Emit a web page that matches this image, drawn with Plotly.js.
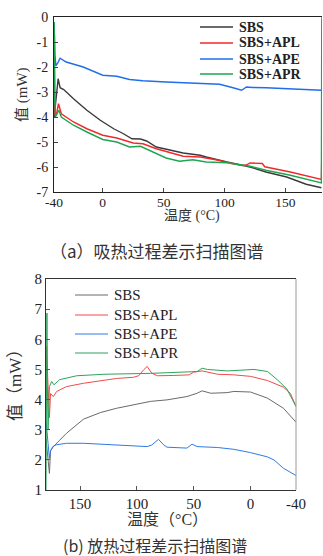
<!DOCTYPE html>
<html>
<head>
<meta charset="utf-8">
<script src="https://cdn.plot.ly/plotly-3.0.1.min.js"></script>
<style>html,body{margin:0;padding:0;background:#fff;}#chart{width:323px;height:556px;}</style>
</head>
<body>
<div id="chart"></div>
<script>
// ---------- (a) endothermic (heating) ----------
const seriesNames = ['SBS', 'SBS+APL', 'SBS+APE', 'SBS+APR'];

const heatT_SBS = [-40, -39.6, -39, -37.8, -36.6, -35, -32, -24, -13, -2, 9, 17, 24, 31, 36, 44, 52, 66, 80, 85, 102, 121, 134, 151, 167, 179.5];
const heatY_SBS = [-3.4, -4.0, -3.6, -3.0, -2.47, -2.83, -2.9, -3.27, -3.73, -4.13, -4.47, -4.67, -4.87, -4.88, -4.96, -5.2, -5.29, -5.44, -5.53, -5.6, -5.8, -6.0, -6.2, -6.4, -6.69, -6.83];

const heatT_APL = [-40, -39.7, -39.2, -38, -36.3, -34, -24, -13, 0, 11.5, 25, 33, 44, 58, 66, 80, 93, 107, 114.8, 117.8, 121, 131, 133, 154, 179.5, 179.8, 180];
const heatY_APL = [-3.3, -1.7, -3.9, -3.9, -3.47, -3.87, -4.2, -4.47, -4.73, -4.84, -5.04, -5.07, -5.27, -5.47, -5.57, -5.6, -5.71, -5.87, -5.94, -5.92, -5.84, -5.86, -5.99, -6.2, -6.5, -5.6, -5.6];

const heatT_APE = [-40, -39.6, -39.2, -38.5, -37, -35, -30, -16, 0, 11.5, 22, 33, 52, 80, 96, 107, 114, 118, 123, 134, 154, 179.5];
const heatY_APE = [-2.0, -0.7, -1.5, -1.95, -1.85, -1.65, -1.8, -2.0, -2.33, -2.37, -2.5, -2.55, -2.6, -2.67, -2.69, -2.83, -2.93, -2.8, -2.82, -2.83, -2.87, -2.93];

const heatT_APR = [-40, -39.8, -39.4, -38.8, -37.5, -36, -34, -24, -13, 0, 11.5, 22, 31, 41.5, 52, 63, 74, 85, 102, 121, 134, 154, 179.5, 179.8, 180];
const heatY_APR = [-3.5, -0.2, -3.0, -4.0, -3.9, -3.73, -4.0, -4.33, -4.6, -4.9, -5.0, -5.2, -5.17, -5.4, -5.64, -5.77, -5.71, -5.8, -5.83, -5.97, -6.13, -6.33, -6.64, -0.1, 0];

// ---------- (b) exothermic (cooling) ----------
const coolT_SBS = [180, 178.5, 177, 176, 173.5, 168, 162, 147, 132, 118, 103, 88, 73.5, 56, 47, 42.6, 35, 20.6, 14.7, 0, -14.7, -29, -40];
const coolY_SBS = [2.7, 2.0, 1.55, 2.3, 2.44, 2.65, 2.88, 3.35, 3.57, 3.71, 3.82, 3.94, 3.99, 4.1, 4.21, 4.29, 4.21, 4.23, 4.27, 4.25, 4.05, 3.71, 3.25];

const coolT_APL = [180, 179.4, 178.8, 178, 177, 176, 173.5, 170.6, 162, 147, 132, 118, 103, 98.5, 94, 91, 87, 82, 67.6, 54, 50, 42.6, 29, 14.7, 0, -15, -29, -35, -40];
const coolY_APL = [4.5, 5.76, 5.0, 3.9, 3.4, 4.2, 4.1, 4.27, 4.43, 4.54, 4.63, 4.7, 4.74, 4.79, 4.99, 5.1, 4.88, 4.79, 4.8, 4.82, 4.91, 4.95, 4.84, 4.82, 4.77, 4.63, 4.41, 4.21, 3.77];

const coolT_APE = [180, 179.4, 178.5, 177, 176, 174, 171, 162, 147, 132, 103, 91, 87, 81, 76.5, 73.5, 56, 51.5, 47, 29, 14.7, 0, -14.7, -20.6, -29, -40];
const coolY_APE = [3.3, 3.0, 2.66, 2.05, 2.3, 2.44, 2.5, 2.55, 2.55, 2.52, 2.46, 2.44, 2.49, 2.68, 2.5, 2.42, 2.39, 2.52, 2.44, 2.41, 2.35, 2.24, 2.1, 2.0, 1.72, 1.48];

const coolT_APR = [180, 179.6, 179.2, 178.8, 178.2, 177, 175, 173, 168, 153, 129, 88, 59, 47, 42.6, 38, 20.6, 3, -3, -15, -23.5, -32, -40];
const coolY_APR = [1.0, 3.5, 6.87, 4.5, 3.0, 4.43, 4.6, 4.49, 4.66, 4.79, 4.84, 4.87, 4.9, 4.93, 5.04, 5.0, 4.95, 4.97, 5.0, 4.93, 4.66, 4.35, 3.77];

const heatTicks = [-40, 0, 50, 100, 150];
const heatYTicks = [0, -1, -2, -3, -4, -5, -6, -7];
const coolTicks = [150, 100, 50, 0, -40];
const coolYTicks = [1, 2, 3, 4, 5, 6, 7, 8];

const colorsTop = ['#3a3a3a', '#f2282c', '#1f6fe8', '#1fa550'];
const colorsBot = ['#6a6a6a', '#f24a4a', '#2f7ae6', '#2da35a'];

const W = 323, H = 556;
const px = v => v / W;
const py = v => 1 - v / H;

const SERIF = 'Liberation Serif, "Noto Sans CJK SC", serif';
const CJK = '"Noto Sans CJK SC", "Liberation Serif", serif';

const heat = [[heatT_SBS, heatY_SBS], [heatT_APL, heatY_APL], [heatT_APE, heatY_APE], [heatT_APR, heatY_APR]];
const cool = [[coolT_SBS, coolY_SBS], [coolT_APL, coolY_APL], [coolT_APE, coolY_APE], [coolT_APR, coolY_APR]];

const traces = [];
heat.forEach((d, i) => traces.push({x: d[0], y: d[1], type: 'scatter', mode: 'lines', name: seriesNames[i],
  line: {color: colorsTop[i], width: 1.4}, xaxis: 'x', yaxis: 'y', showlegend: false}));
cool.forEach((d, i) => traces.push({x: d[0], y: d[1], type: 'scatter', mode: 'lines', name: seriesNames[i],
  line: {color: colorsBot[i], width: 1}, xaxis: 'x2', yaxis: 'y2', showlegend: false}));

// manual legends (shapes + text)
const shapes = [];
const annotations = [];
const topRows = [27, 43, 59, 74];
const botRows = [295, 315, 334, 353];
seriesNames.forEach((n, i) => {
  shapes.push({type: 'line', xref: 'paper', yref: 'paper', x0: px(200), x1: px(233), y0: py(topRows[i]), y1: py(topRows[i]),
    line: {color: colorsTop[i], width: 1.4}});
  annotations.push({xref: 'paper', yref: 'paper', x: px(237), y: py(topRows[i]), xanchor: 'left', yanchor: 'middle',
    text: '<b>' + n + '</b>', showarrow: false, font: {family: SERIF, size: 14, color: '#222'}});
  shapes.push({type: 'line', xref: 'paper', yref: 'paper', x0: px(75), x1: px(108), y0: py(botRows[i]), y1: py(botRows[i]),
    line: {color: colorsBot[i], width: 1}});
  annotations.push({xref: 'paper', yref: 'paper', x: px(112), y: py(botRows[i]), xanchor: 'left', yanchor: 'middle',
    text: n, showarrow: false, font: {family: SERIF, size: 15, color: '#222'}});
});
// right frame of bottom panel (grey)
shapes.push({type: 'line', xref: 'paper', yref: 'paper', x0: px(296), x1: px(296), y0: py(279), y1: py(490),
  line: {color: '#9a9a9a', width: 1}});

annotations.push(
  {xref: 'paper', yref: 'paper', x: px(22), y: py(95), text: '值 (mW)', textangle: -90, showarrow: false,
    xanchor: 'center', yanchor: 'middle', font: {family: SERIF, size: 15, color: '#333'}},
  {xref: 'paper', yref: 'paper', x: px(192), y: py(216), text: '温度 (°C)', showarrow: false,
    xanchor: 'center', yanchor: 'middle', font: {family: SERIF, size: 14, color: '#333'}},
  {xref: 'paper', yref: 'paper', x: px(157), y: py(250), text: '（a）吸热过程差示扫描图谱', showarrow: false,
    xanchor: 'center', yanchor: 'middle', font: {family: CJK, size: 17, color: '#333'}},
  {xref: 'paper', yref: 'paper', x: px(15), y: py(381), text: '值（mW）', textangle: -90, showarrow: false,
    xanchor: 'center', yanchor: 'middle', font: {family: SERIF, size: 17, color: '#333'}},
  {xref: 'paper', yref: 'paper', x: px(167), y: py(519), text: '温度（°C）', showarrow: false,
    xanchor: 'center', yanchor: 'middle', font: {family: SERIF, size: 16, color: '#333'}},
  {xref: 'paper', yref: 'paper', x: px(155), y: py(545), text: '(b) 放热过程差示扫描图谱', showarrow: false,
    xanchor: 'center', yanchor: 'middle', font: {family: CJK, size: 16, color: '#333'}}
);

const axBase = {showgrid: false, zeroline: false, showline: true, ticks: 'inside', ticklen: 4, tickwidth: 1};

const layout = {
  width: W, height: H, autosize: false,
  margin: {l: 0, r: 0, t: 0, b: 0},
  paper_bgcolor: '#fff', plot_bgcolor: '#fff',
  showlegend: false,
  xaxis: Object.assign({}, axBase, {domain: [px(54), px(322)], range: [-40, 180], anchor: 'y',
    tickvals: heatTicks, ticktext: heatTicks.map(String), linecolor: '#222', tickcolor: '#444', mirror: true,
    ticklabelstandoff: -2,
    tickfont: {family: SERIF, size: 13.5, color: '#222'}}),
  yaxis: Object.assign({}, axBase, {domain: [py(192), py(17)], range: [-7, 0], anchor: 'x',
    tickvals: heatYTicks, ticktext: heatYTicks.map(String), linecolor: '#222', tickcolor: '#444',
    ticklabelstandoff: 2,
    tickfont: {family: SERIF, size: 14, color: '#222'}}),
  xaxis2: Object.assign({}, axBase, {domain: [px(46), px(296)], range: [180, -40], anchor: 'y2',
    tickvals: coolTicks, ticktext: coolTicks.map(String), linecolor: '#333', tickcolor: '#555', mirror: true,
    tickfont: {family: SERIF, size: 15, color: '#222'}}),
  yaxis2: Object.assign({}, axBase, {domain: [py(490), py(279)], range: [1, 8], anchor: 'x2',
    tickvals: coolYTicks, ticktext: coolYTicks.map(String), linecolor: '#333', tickcolor: '#555',
    tickfont: {family: SERIF, size: 15, color: '#222'}}),
  shapes: shapes,
  annotations: annotations
};

Plotly.newPlot('chart', traces, layout, {staticPlot: true, displayModeBar: false});
</script>
</body>
</html>
